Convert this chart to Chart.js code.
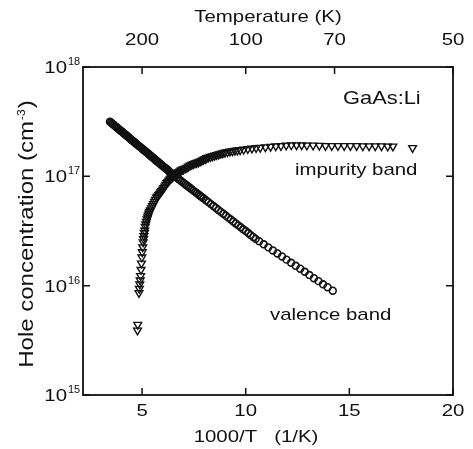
<!DOCTYPE html>
<html>
<head>
<meta charset="utf-8">
<script src="https://cdn.jsdelivr.net/npm/chart.js@4.4.0/dist/chart.umd.min.js"></script>
<style>
  body { margin: 0; background: #fff; }
  canvas { display: block; }
</style>
</head>
<body>
<canvas id="holeChart" width="473" height="449"></canvas>
<script>
// Valence band (open circles): 1000/T and hole concentration
const valenceX = [3.45, 3.50, 3.55, 3.60, 3.65, 3.70, 3.75, 3.80, 3.85, 3.90,
    3.95, 4.00, 4.05, 4.10, 4.15, 4.20, 4.25, 4.30, 4.35, 4.40,
    4.45, 4.50, 4.55, 4.60, 4.65, 4.70, 4.75, 4.80, 4.85, 4.90,
    4.95, 5.00, 5.05, 5.10, 5.15, 5.20, 5.25, 5.30, 5.35, 5.40,
    5.45, 5.50, 5.55, 5.60, 5.65, 5.70, 5.75, 5.80, 5.85, 5.90,
    5.95, 6.00, 6.05, 6.10, 6.15, 6.20, 6.25, 6.30, 6.35, 6.40,
    6.45, 6.50, 6.55, 6.60, 6.68, 6.76, 6.84, 6.92, 7.00, 7.08,
    7.16, 7.24, 7.32, 7.40, 7.48, 7.56, 7.64, 7.72, 7.80, 7.88,
    7.96, 8.08, 8.20, 8.32, 8.44, 8.56, 8.68, 8.80, 8.92, 9.04,
    9.16, 9.28, 9.40, 9.52, 9.64, 9.76, 9.88, 10.00, 10.12, 10.24,
    10.36, 10.48, 10.65, 10.87, 11.09, 11.31, 11.53, 11.75, 11.97, 12.19,
    12.41, 12.63, 12.85, 13.07, 13.29, 13.51, 13.73, 13.95, 14.20];
const valenceP = [3.16e17, 3.11e17, 3.05e17, 2.99e17, 2.94e17, 2.88e17, 2.83e17, 2.78e17, 2.73e17, 2.68e17,
    2.63e17, 2.59e17, 2.54e17, 2.49e17, 2.45e17, 2.40e17, 2.36e17, 2.32e17, 2.28e17, 2.23e17,
    2.19e17, 2.15e17, 2.11e17, 2.07e17, 2.04e17, 2.00e17, 1.96e17, 1.93e17, 1.89e17, 1.86e17,
    1.83e17, 1.79e17, 1.76e17, 1.73e17, 1.70e17, 1.67e17, 1.64e17, 1.61e17, 1.58e17, 1.55e17,
    1.52e17, 1.49e17, 1.47e17, 1.44e17, 1.41e17, 1.39e17, 1.36e17, 1.34e17, 1.31e17, 1.29e17,
    1.27e17, 1.24e17, 1.22e17, 1.20e17, 1.18e17, 1.16e17, 1.14e17, 1.11e17, 1.09e17, 1.07e17,
    1.05e17, 1.04e17, 1.02e17, 9.98e16, 9.71e16, 9.44e16, 9.19e16, 8.95e16, 8.71e16, 8.47e16,
    8.24e16, 8.03e16, 7.82e16, 7.60e16, 7.40e16, 7.21e16, 7.02e16, 6.82e16, 6.64e16, 6.47e16,
    6.30e16, 6.04e16, 5.81e16, 5.57e16, 5.35e16, 5.14e16, 4.93e16, 4.73e16, 4.55e16, 4.37e16,
    4.19e16, 4.03e16, 3.86e16, 3.71e16, 3.56e16, 3.42e16, 3.28e16, 3.16e16, 3.03e16, 2.90e16,
    2.79e16, 2.68e16, 2.55e16, 2.39e16, 2.24e16, 2.10e16, 1.97e16, 1.85e16, 1.73e16, 1.62e16,
    1.52e16, 1.43e16, 1.34e16, 1.25e16, 1.17e16, 1.10e16, 1.03e16, 9.68e15, 8.99e15];

// Impurity band (open down-triangles)
const impurityX = [4.78, 4.79, 4.85, 4.87, 4.89, 4.91, 4.93, 4.95, 4.97, 4.99,
    5.01, 5.03, 5.05, 5.07, 5.09, 5.11, 5.13, 5.15, 5.18, 5.21,
    5.24, 5.27, 5.30, 5.33, 5.36, 5.40, 5.45, 5.50, 5.55, 5.60,
    5.65, 5.70, 5.75, 5.80, 5.85, 5.90, 5.95, 6.00, 6.05, 6.10,
    6.15, 6.20, 6.25, 6.30, 6.35, 6.40, 6.45, 6.50, 6.55, 6.60,
    6.65, 6.70, 6.76, 6.82, 6.88, 6.94, 7.00, 7.08, 7.16, 7.24,
    7.32, 7.40, 7.48, 7.56, 7.64, 7.72, 7.80, 7.88, 7.96, 8.04,
    8.12, 8.20, 8.30, 8.40, 8.50, 8.60, 8.70, 8.80, 8.90, 9.00,
    9.12, 9.24, 9.36, 9.48, 9.60, 9.73, 9.90, 10.10, 10.30, 10.50,
    10.70, 10.95, 11.20, 11.45, 11.70, 11.95, 12.20, 12.45, 12.70, 12.95,
    13.25, 13.55, 13.85, 14.15, 14.45, 14.75, 15.05, 15.35, 15.65, 15.95,
    16.25, 16.55, 16.85, 17.10, 18.05];
const impurityP = [3.9e15, 4.4e15, 8.6e15, 9.4e15, 1.03e16, 1.12e16, 1.23e16, 1.40e16, 1.60e16, 1.82e16,
    2.03e16, 2.25e16, 2.50e16, 2.68e16, 2.85e16, 3.03e16, 3.20e16, 3.47e16, 3.65e16, 3.85e16,
    4.05e16, 4.22e16, 4.40e16, 4.57e16, 4.74e16, 4.90e16, 5.12e16, 5.35e16, 5.60e16, 5.85e16,
    6.10e16, 6.40e16, 6.55e16, 6.75e16, 6.95e16, 7.15e16, 7.35e16, 7.60e16, 7.85e16, 8.10e16,
    8.40e16, 8.70e16, 8.90e16, 9.15e16, 9.40e16, 9.60e16, 9.80e16, 1.00e17, 1.02e17, 1.04e17,
    1.06e17, 1.07e17, 1.09e17, 1.11e17, 1.13e17, 1.15e17, 1.16e17, 1.18e17, 1.20e17, 1.23e17,
    1.26e17, 1.28e17, 1.30e17, 1.32e17, 1.33e17, 1.35e17, 1.37e17, 1.39e17, 1.42e17, 1.44e17,
    1.47e17, 1.49e17, 1.51e17, 1.53e17, 1.55e17, 1.57e17, 1.59e17, 1.61e17, 1.63e17, 1.65e17,
    1.67e17, 1.69e17, 1.70e17, 1.72e17, 1.73e17, 1.74e17, 1.76e17, 1.78e17, 1.80e17, 1.82e17,
    1.83e17, 1.85e17, 1.87e17, 1.89e17, 1.90e17, 1.92e17, 1.93e17, 1.93e17, 1.93e17, 1.92e17,
    1.92e17, 1.91e17, 1.90e17, 1.90e17, 1.90e17, 1.90e17, 1.90e17, 1.90e17, 1.89e17, 1.89e17,
    1.89e17, 1.89e17, 1.88e17, 1.88e17, 1.82e17];

const xTicks = [5, 10, 15, 20];
const yTicks = [1e15, 1e16, 1e17, 1e18];
const yExponents = ['15', '16', '17', '18'];
const tempTicks = [200, 100, 70, 50];

const FONT = '"Liberation Sans", Arial, Helvetica, sans-serif';
const INK = '#111';

// text drawn a bit wider than Arial, like the original figure
function wideText(ctx, str, x, y, size, align, sx) {
    ctx.save();
    ctx.translate(x, y);
    ctx.scale(sx, 1);
    ctx.font = size + 'px ' + FONT;
    ctx.textAlign = align;
    ctx.textBaseline = 'alphabetic';
    ctx.fillStyle = INK;
    ctx.fillText(str, 0, 0);
    ctx.restore();
}

function textWidth(ctx, str, size, sx) {
    ctx.font = size + 'px ' + FONT;
    return ctx.measureText(str).width * sx;
}

const frameAndLabels = {
    id: 'frameAndLabels',
    afterDraw(chart) {
        const ctx = chart.ctx;
        const area = chart.chartArea;
        const xs = chart.scales.x;
        const ys = chart.scales.y;
        const tick = 7;

        ctx.save();
        ctx.strokeStyle = INK;

        // frame
        ctx.lineWidth = 1.8;
        ctx.strokeRect(area.left, area.top, area.right - area.left, area.bottom - area.top);

        // inward ticks
        ctx.lineWidth = 1.5;
        ctx.beginPath();
        xTicks.forEach(v => {
            const px = xs.getPixelForValue(v);
            ctx.moveTo(px, area.bottom);
            ctx.lineTo(px, area.bottom - tick);
        });
        tempTicks.forEach(t => {
            const px = xs.getPixelForValue(1000 / t);
            ctx.moveTo(px, area.top);
            ctx.lineTo(px, area.top + tick);
        });
        yTicks.forEach(v => {
            const py = ys.getPixelForValue(v);
            ctx.moveTo(area.left, py);
            ctx.lineTo(area.left + tick, py);
            ctx.moveTo(area.right, py);
            ctx.lineTo(area.right - tick, py);
        });
        ctx.stroke();

        // bottom tick labels
        xTicks.forEach(v => {
            wideText(ctx, String(v), xs.getPixelForValue(v), 416, 17, 'center', 1.2);
        });
        // top temperature labels
        tempTicks.forEach(t => {
            wideText(ctx, String(t), xs.getPixelForValue(1000 / t), 45, 17, 'center', 1.2);
        });
        // y labels 10^n
        yTicks.forEach((v, i) => {
            const py = ys.getPixelForValue(v);
            wideText(ctx, '10', 67, py + 6, 17, 'right', 1.2);
            wideText(ctx, yExponents[i], 68, py - 2, 10, 'left', 1.1);
        });

        // axis titles
        wideText(ctx, 'Temperature (K)', 268, 22, 17, 'center', 1.2);
        wideText(ctx, '1000/T   (1/K)', 256, 442, 17, 'center', 1.2);

        // y title, rotated, with superscript -3
        const a = 'Hole concentration (cm';
        const b = '-3';
        const c = ')';
        const ySize = 20, ySx = 1.2;
        const wa = textWidth(ctx, a, ySize, ySx);
        const wb = textWidth(ctx, b, 11, 1.1);
        const wc = textWidth(ctx, c, ySize, ySx);
        ctx.save();
        ctx.translate(33, 235);
        ctx.rotate(-Math.PI / 2);
        let start = -(wa + wb + wc) / 2;
        wideText(ctx, a, start, 0, ySize, 'left', ySx);
        wideText(ctx, b, start + wa + 1, -8, 11, 'left', 1.1);
        wideText(ctx, c, start + wa + wb + 2, 0, ySize, 'left', ySx);
        ctx.restore();

        // annotations
        wideText(ctx, 'GaAs:Li', 343, 104, 19, 'left', 1.15);
        wideText(ctx, 'impurity band', 295, 175, 17, 'left', 1.2);
        wideText(ctx, 'valence band', 270, 320, 17, 'left', 1.2);

        ctx.restore();
    }
};

const ctx = document.getElementById('holeChart').getContext('2d');
const holeChart = new Chart(ctx, {
    type: 'scatter',
    data: {
        datasets: [
            {
                label: 'valence band',
                data: valenceX.map((x, i) => ({ x: x, y: valenceP[i] })),
                pointStyle: 'circle',
                pointRadius: 3.4,
                pointBorderWidth: 1.6,
                pointBorderColor: INK,
                pointBackgroundColor: 'rgba(255,255,255,0)'
            },
            {
                label: 'impurity band',
                data: impurityX.map((x, i) => ({ x: x, y: impurityP[i] })),
                pointStyle: 'triangle',
                rotation: 180,
                pointRadius: 4.5,
                pointBorderWidth: 1.4,
                pointBorderColor: INK,
                pointBackgroundColor: 'rgba(255,255,255,0)'
            }
        ]
    },
    options: {
        responsive: false,
        animation: false,
        layout: { padding: { left: 83, right: 20, top: 67, bottom: 54 } },
        plugins: {
            legend: { display: false },
            tooltip: { enabled: false }
        },
        scales: {
            x: {
                type: 'linear',
                display: false,
                min: 2.15,
                max: 20
            },
            y: {
                type: 'logarithmic',
                display: false,
                min: 1e15,
                max: 1e18
            }
        }
    },
    plugins: [frameAndLabels]
});
</script>
</body>
</html>
